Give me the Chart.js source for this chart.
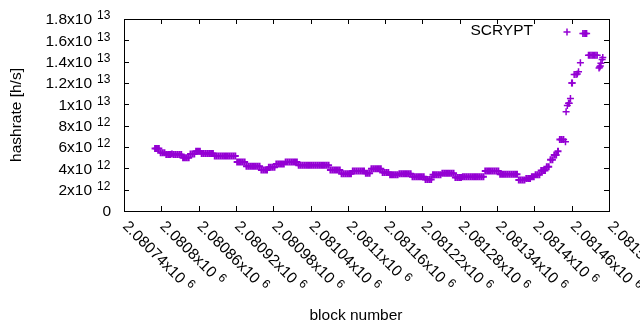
<!DOCTYPE html>
<html>
<head>
<meta charset="utf-8">
<script src="https://cdn.jsdelivr.net/npm/chart.js@4.4.1/dist/chart.umd.min.js"></script>
<style>
  body { margin: 0; background: #fff; }
  #wrap { width: 640px; height: 330px; }
</style>
</head>
<body>
<div id="wrap"><canvas id="chart" width="640" height="330"></canvas></div>
<script>
// hashrate in units of 1e12 h/s, one sample every 3 blocks from firstBlock
const firstBlock = 2080790;
const blockStep = 3;
const hashrate = [
  5.85, 5.85, 5.85,
  5.45, 5.45, 5.45,
  5.3, 5.3, 5.3, 5.35, 5.3, 5.3, 5.3, 5.3, 5.3,
  5.0, 5.0, 5.0, 5.0,
  5.35, 5.35, 5.35,
  5.6, 5.6, 5.6,
  5.4, 5.4, 5.4, 5.4, 5.4, 5.4, 5.4,
  5.15, 5.15, 5.15, 5.15, 5.15, 5.15, 5.15, 5.15, 5.15, 5.15, 5.15, 5.15,
  4.6, 4.6, 4.6, 4.6, 4.6,
  4.2, 4.2, 4.2, 4.2, 4.2, 4.2, 4.2, 4.2,
  3.85, 3.85, 3.85, 3.85,
  4.1, 4.1, 4.1, 4.1,
  4.4, 4.4, 4.4, 4.4, 4.4,
  4.6, 4.6, 4.6, 4.6, 4.6, 4.6, 4.6,
  4.3, 4.3, 4.3, 4.3, 4.3, 4.3, 4.3, 4.3, 4.3, 4.3, 4.3, 4.3, 4.3, 4.3, 4.3, 4.3, 4.3,
  3.85, 3.85, 3.85, 3.85, 3.85, 3.85,
  3.5, 3.5, 3.5, 3.5, 3.5, 3.5,
  3.75, 3.75, 3.75, 3.75, 3.75, 3.75, 3.75,
  3.55, 3.55, 3.55,
  3.95, 3.95, 3.95, 3.95, 3.95, 3.95,
  3.6, 3.6, 3.6, 3.6,
  3.4, 3.4, 3.4, 3.4, 3.4,
  3.5, 3.5, 3.5, 3.5, 3.5, 3.5, 3.5,
  3.2, 3.2, 3.2, 3.2, 3.2, 3.2, 3.2,
  2.95, 2.95, 2.95, 2.95,
  3.4, 3.4, 3.4, 3.4, 3.4,
  3.55, 3.55, 3.55, 3.55, 3.55, 3.55, 3.55,
  3.15, 3.15, 3.15, 3.15,
  3.2, 3.2, 3.2, 3.2, 3.2, 3.2, 3.2, 3.2, 3.2, 3.2, 3.2, 3.2,
  3.75, 3.75, 3.75, 3.75, 3.75, 3.75, 3.75, 3.75,
  3.45, 3.45, 3.45, 3.45, 3.45, 3.45, 3.45, 3.45, 3.45, 3.45,
  2.9, 2.9, 2.9, 2.9,
  3.05, 3.05, 3.05,
  3.2, 3.2,
  3.4, 3.4, 3.4,
  3.8, 3.8, 3.8,
  4.15, 4.15,
  4.8, 4.8,
  5.25, 5.25,
  5.6,
  6.7, 6.7
];

// the sparse tail where the hashrate jumps up
const tailBlocks = [
  2081447, 2081450, 2081451, 2081453, 2081455, 2081456, 2081458, 2081460,
  2081461, 2081464, 2081467, 2081469, 2081471, 2081474, 2081478, 2081480,
  2081482, 2081484, 2081487, 2081489, 2081491, 2081493, 2081495, 2081497,
  2081499, 2081501, 2081504, 2081505, 2081506, 2081507, 2081509, 2081510
];
const tailHashrate = [
  6.7, 6.5, 9.3, 9.9, 10.1, 10.1, 10.55, 12.0,
  12.0, 12.8, 12.8, 12.85, 13.05, 13.9, 16.65, 16.65,
  16.65, 16.65, 14.6, 14.6, 14.6, 14.6, 14.6, 14.6,
  14.6, 14.6, 13.4, 13.5, 13.6, 13.85, 14.2, 14.4
];

const xTicks = [2080740, 2080800, 2080860, 2080920, 2080980, 2081040, 2081100,
  2081160, 2081220, 2081280, 2081340, 2081400, 2081460, 2081520];
const xTickLabels = ["2.08074", "2.0808", "2.08086", "2.08092", "2.08098", "2.08104", "2.0811",
  "2.08116", "2.08122", "2.08128", "2.08134", "2.0814", "2.08146", "2.08152"];
const xTickExp = "6";

const yTicks = [0, 2e12, 4e12, 6e12, 8e12, 1e13, 1.2e13, 1.4e13, 1.6e13, 1.8e13];
const yTickLabels = ["0", "2", "4", "6", "8", "1", "1.2", "1.4", "1.6", "1.8"];
const yTickExp = ["", "12", "12", "12", "12", "13", "13", "13", "13", "13"];

const seriesName = "SCRYPT";
const xTitle = "block number";
const yTitle = "hashrate [h/s]";

const purple = "#9400D3";
const font = "'Liberation Sans', Arial, sans-serif";
const mainFont = "15.5px " + font;
const supFont = "12px " + font;

const points = [];
hashrate.forEach((v, i) => points.push({ x: firstBlock + i * blockStep, y: v * 1e12 }));
tailBlocks.forEach((b, i) => points.push({ x: b, y: tailHashrate[i] * 1e12 }));

const gnuplotLook = {
  id: "gnuplotLook",
  beforeDatasetsDraw(chart) {
    const { ctx, chartArea: a, scales: { x, y } } = chart;
    ctx.save();
    ctx.strokeStyle = "#000";
    ctx.lineWidth = 1;
    ctx.strokeRect(a.left + 0.5, a.top + 0.5, a.right - a.left, a.bottom - a.top);
    const t = 5;
    ctx.beginPath();
    xTicks.forEach(v => {
      const px = Math.round(x.getPixelForValue(v)) + 0.5;
      ctx.moveTo(px, a.bottom); ctx.lineTo(px, a.bottom - t);
      ctx.moveTo(px, a.top); ctx.lineTo(px, a.top + t);
    });
    yTicks.forEach(v => {
      const py = Math.round(y.getPixelForValue(v)) + 0.5;
      ctx.moveTo(a.left, py); ctx.lineTo(a.left + t, py);
      ctx.moveTo(a.right, py); ctx.lineTo(a.right - t, py);
    });
    ctx.stroke();
    ctx.restore();
  },
  afterDraw(chart) {
    const { ctx, chartArea: a, scales: { x, y } } = chart;
    ctx.save();
    ctx.fillStyle = "#000";

    // y tick labels with superscript exponent
    yTicks.forEach((v, i) => {
      const py = y.getPixelForValue(v);
      ctx.textBaseline = "middle";
      ctx.font = mainFont;
      ctx.textAlign = "right";
      if (yTickExp[i] === "") {
        ctx.fillText(yTickLabels[i], a.left - 13, py + 1);
        return;
      }
      ctx.fillText(yTickLabels[i] + "x10", a.left - 32, py + 1);
      ctx.font = supFont;
      ctx.textAlign = "left";
      ctx.fillText(yTickExp[i], a.left - 27, py - 3);
    });

    // x tick labels, rotated -45 degrees
    xTicks.forEach((v, i) => {
      const px = x.getPixelForValue(v);
      ctx.save();
      ctx.translate(px + 1, a.bottom + 13);
      ctx.rotate(Math.PI / 4);
      ctx.textAlign = "left";
      ctx.textBaseline = "middle";
      ctx.font = mainFont;
      const txt = xTickLabels[i] + "x10";
      ctx.fillText(txt, 0, 0);
      const w = ctx.measureText(txt).width;
      ctx.font = supFont;
      ctx.fillText(xTickExp, w + 5, -4);
      ctx.restore();
    });

    // axis titles
    ctx.font = mainFont;
    ctx.textAlign = "center";
    ctx.textBaseline = "middle";
    ctx.fillText(xTitle, 356, 316);
    ctx.save();
    ctx.translate(17, (a.top + a.bottom) / 2);
    ctx.rotate(-Math.PI / 2);
    ctx.fillText(yTitle, 0, 0);
    ctx.restore();

    // key: text then sample, gnuplot style
    ctx.textAlign = "right";
    ctx.fillText(seriesName, 533, 31);
    const kx = 567, ky = 32;
    ctx.strokeStyle = purple;
    ctx.lineWidth = 1.5;
    ctx.beginPath();
    ctx.moveTo(kx - 3.5, ky); ctx.lineTo(kx + 3.5, ky);
    ctx.moveTo(kx, ky - 3.5); ctx.lineTo(kx, ky + 3.5);
    ctx.stroke();
    ctx.restore();
  }
};

new Chart(document.getElementById("chart"), {
  type: "scatter",
  data: {
    datasets: [{
      label: seriesName,
      data: points,
      pointStyle: "cross",
      pointRadius: 3.5,
      // dense run of blocks reads as a solid band, isolated points stay thin
      pointBorderWidth: ctx => (ctx.dataIndex < hashrate.length ? 2 : 1.5),
      borderColor: purple,
      backgroundColor: purple
    }]
  },
  options: {
    responsive: false,
    animation: false,
    events: [],
    layout: { padding: { left: 124, right: 31, top: 19, bottom: 119 } },
    plugins: { legend: { display: false }, tooltip: { enabled: false } },
    scales: {
      x: { type: "linear", display: false, min: 2080740, max: 2081520 },
      y: { type: "linear", display: false, min: 0, max: 1.8e13 }
    }
  },
  plugins: [gnuplotLook]
});
</script>
</body>
</html>
